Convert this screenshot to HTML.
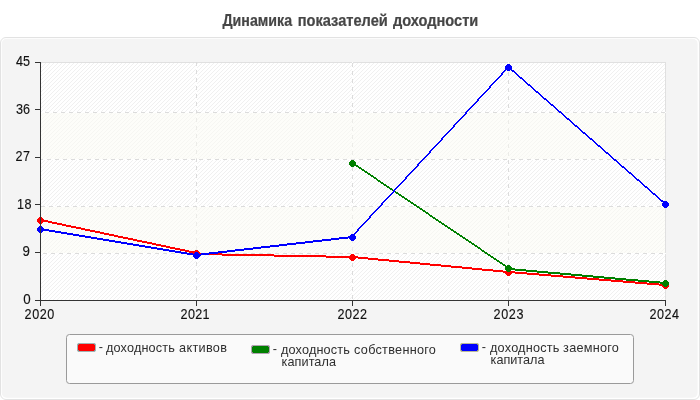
<!DOCTYPE html>
<html lang="ru">
<head>
<meta charset="utf-8">
<title>Динамика показателей доходности</title>
<style>
html,body{margin:0;padding:0;background:#fff;}
body{width:700px;height:400px;overflow:hidden;position:relative;font-family:"Liberation Sans",sans-serif;}
#chart{position:absolute;left:0;top:0;width:700px;height:400px;display:block;}
text{font-family:"Liberation Sans",sans-serif;white-space:pre;}
.title{font-weight:bold;font-size:14.67px;fill:#464646;stroke:#464646;stroke-width:0.2;}
.ax{font-size:12.6px;fill:#111111;stroke:#111111;stroke-width:0.12;}
.lg{font-size:12.7px;fill:#2e2e2e;stroke:#2e2e2e;stroke-width:0.0;}
</style>
</head>
<body>
<svg id="chart" width="700" height="400" viewBox="0 0 700 400">
<defs>
<pattern id="hatch" patternUnits="userSpaceOnUse" width="4" height="4" x="0" y="0">
<rect width="4" height="4" fill="#ffffff"/>
<g fill="#f0f0f0" shape-rendering="crispEdges"><rect x="0" y="0" width="1" height="1"/><rect x="3" y="1" width="1" height="1"/><rect x="2" y="2" width="1" height="1"/><rect x="1" y="3" width="1" height="1"/></g>
</pattern>
</defs>

<rect x="0.5" y="37.5" width="699" height="362" rx="5.5" ry="5.5" fill="#ffffff" stroke="#e2e2e2" stroke-width="1"/>
<rect x="1.7" y="38.7" width="695.9" height="359.1" rx="5" ry="5" fill="#f4f4f4"/>
<text class="title" transform="translate(0,26) scale(1,1.07)"><tspan x="222.46" y="0.0" textLength="69.58" lengthAdjust="spacingAndGlyphs">Динамика</tspan> <tspan x="297.7" y="0.0" textLength="90.1" lengthAdjust="spacingAndGlyphs">показателей</tspan> <tspan x="392.92" y="0.0" textLength="85.36" lengthAdjust="spacingAndGlyphs">доходности</tspan></text>
<rect x="40" y="62" width="626" height="239" fill="url(#hatch)"/>
<rect x="40.5" y="62.5" width="625" height="238" fill="none" stroke="#e0e0e0" stroke-width="1" shape-rendering="crispEdges"/>
<path d="M41 112h625v1h-625zM41 159h625v1h-625zM41 206h625v1h-625zM41 253h625v1h-625zM196 62h1v238h-1zM352 62h1v238h-1zM508 62h1v238h-1z" fill="#ffffff" shape-rendering="crispEdges"/>
<path d="M45 112h4v1h-4zM53 112h4v1h-4zM61 112h4v1h-4zM69 112h4v1h-4zM77 112h4v1h-4zM85 112h4v1h-4zM93 112h4v1h-4zM101 112h4v1h-4zM109 112h4v1h-4zM117 112h4v1h-4zM125 112h4v1h-4zM133 112h4v1h-4zM141 112h4v1h-4zM149 112h4v1h-4zM157 112h4v1h-4zM165 112h4v1h-4zM173 112h4v1h-4zM181 112h4v1h-4zM189 112h4v1h-4zM197 112h4v1h-4zM205 112h4v1h-4zM213 112h4v1h-4zM221 112h4v1h-4zM229 112h4v1h-4zM237 112h4v1h-4zM245 112h4v1h-4zM253 112h4v1h-4zM261 112h4v1h-4zM269 112h4v1h-4zM277 112h4v1h-4zM285 112h4v1h-4zM293 112h4v1h-4zM301 112h4v1h-4zM309 112h4v1h-4zM317 112h4v1h-4zM325 112h4v1h-4zM333 112h4v1h-4zM341 112h4v1h-4zM349 112h4v1h-4zM357 112h4v1h-4zM365 112h4v1h-4zM373 112h4v1h-4zM381 112h4v1h-4zM389 112h4v1h-4zM397 112h4v1h-4zM405 112h4v1h-4zM413 112h4v1h-4zM421 112h4v1h-4zM429 112h4v1h-4zM437 112h4v1h-4zM445 112h4v1h-4zM453 112h4v1h-4zM461 112h4v1h-4zM469 112h4v1h-4zM477 112h4v1h-4zM485 112h4v1h-4zM493 112h4v1h-4zM501 112h4v1h-4zM509 112h4v1h-4zM517 112h4v1h-4zM525 112h4v1h-4zM533 112h4v1h-4zM541 112h4v1h-4zM549 112h4v1h-4zM557 112h4v1h-4zM565 112h4v1h-4zM573 112h4v1h-4zM581 112h4v1h-4zM589 112h4v1h-4zM597 112h4v1h-4zM605 112h4v1h-4zM613 112h4v1h-4zM621 112h4v1h-4zM629 112h4v1h-4zM637 112h4v1h-4zM645 112h4v1h-4zM653 112h4v1h-4zM661 112h4v1h-4zM41 159h2v1h-2zM47 159h4v1h-4zM55 159h4v1h-4zM63 159h4v1h-4zM71 159h4v1h-4zM79 159h4v1h-4zM87 159h4v1h-4zM95 159h4v1h-4zM103 159h4v1h-4zM111 159h4v1h-4zM119 159h4v1h-4zM127 159h4v1h-4zM135 159h4v1h-4zM143 159h4v1h-4zM151 159h4v1h-4zM159 159h4v1h-4zM167 159h4v1h-4zM175 159h4v1h-4zM183 159h4v1h-4zM191 159h4v1h-4zM199 159h4v1h-4zM207 159h4v1h-4zM215 159h4v1h-4zM223 159h4v1h-4zM231 159h4v1h-4zM239 159h4v1h-4zM247 159h4v1h-4zM255 159h4v1h-4zM263 159h4v1h-4zM271 159h4v1h-4zM279 159h4v1h-4zM287 159h4v1h-4zM295 159h4v1h-4zM303 159h4v1h-4zM311 159h4v1h-4zM319 159h4v1h-4zM327 159h4v1h-4zM335 159h4v1h-4zM343 159h4v1h-4zM351 159h4v1h-4zM359 159h4v1h-4zM367 159h4v1h-4zM375 159h4v1h-4zM383 159h4v1h-4zM391 159h4v1h-4zM399 159h4v1h-4zM407 159h4v1h-4zM415 159h4v1h-4zM423 159h4v1h-4zM431 159h4v1h-4zM439 159h4v1h-4zM447 159h4v1h-4zM455 159h4v1h-4zM463 159h4v1h-4zM471 159h4v1h-4zM479 159h4v1h-4zM487 159h4v1h-4zM495 159h4v1h-4zM503 159h4v1h-4zM511 159h4v1h-4zM519 159h4v1h-4zM527 159h4v1h-4zM535 159h4v1h-4zM543 159h4v1h-4zM551 159h4v1h-4zM559 159h4v1h-4zM567 159h4v1h-4zM575 159h4v1h-4zM583 159h4v1h-4zM591 159h4v1h-4zM599 159h4v1h-4zM607 159h4v1h-4zM615 159h4v1h-4zM623 159h4v1h-4zM631 159h4v1h-4zM639 159h4v1h-4zM647 159h4v1h-4zM655 159h4v1h-4zM663 159h3v1h-3zM41 206h4v1h-4zM49 206h4v1h-4zM57 206h4v1h-4zM65 206h4v1h-4zM73 206h4v1h-4zM81 206h4v1h-4zM89 206h4v1h-4zM97 206h4v1h-4zM105 206h4v1h-4zM113 206h4v1h-4zM121 206h4v1h-4zM129 206h4v1h-4zM137 206h4v1h-4zM145 206h4v1h-4zM153 206h4v1h-4zM161 206h4v1h-4zM169 206h4v1h-4zM177 206h4v1h-4zM185 206h4v1h-4zM193 206h4v1h-4zM201 206h4v1h-4zM209 206h4v1h-4zM217 206h4v1h-4zM225 206h4v1h-4zM233 206h4v1h-4zM241 206h4v1h-4zM249 206h4v1h-4zM257 206h4v1h-4zM265 206h4v1h-4zM273 206h4v1h-4zM281 206h4v1h-4zM289 206h4v1h-4zM297 206h4v1h-4zM305 206h4v1h-4zM313 206h4v1h-4zM321 206h4v1h-4zM329 206h4v1h-4zM337 206h4v1h-4zM345 206h4v1h-4zM353 206h4v1h-4zM361 206h4v1h-4zM369 206h4v1h-4zM377 206h4v1h-4zM385 206h4v1h-4zM393 206h4v1h-4zM401 206h4v1h-4zM409 206h4v1h-4zM417 206h4v1h-4zM425 206h4v1h-4zM433 206h4v1h-4zM441 206h4v1h-4zM449 206h4v1h-4zM457 206h4v1h-4zM465 206h4v1h-4zM473 206h4v1h-4zM481 206h4v1h-4zM489 206h4v1h-4zM497 206h4v1h-4zM505 206h4v1h-4zM513 206h4v1h-4zM521 206h4v1h-4zM529 206h4v1h-4zM537 206h4v1h-4zM545 206h4v1h-4zM553 206h4v1h-4zM561 206h4v1h-4zM569 206h4v1h-4zM577 206h4v1h-4zM585 206h4v1h-4zM593 206h4v1h-4zM601 206h4v1h-4zM609 206h4v1h-4zM617 206h4v1h-4zM625 206h4v1h-4zM633 206h4v1h-4zM641 206h4v1h-4zM649 206h4v1h-4zM657 206h4v1h-4zM665 206h1v1h-1zM43 253h4v1h-4zM51 253h4v1h-4zM59 253h4v1h-4zM67 253h4v1h-4zM75 253h4v1h-4zM83 253h4v1h-4zM91 253h4v1h-4zM99 253h4v1h-4zM107 253h4v1h-4zM115 253h4v1h-4zM123 253h4v1h-4zM131 253h4v1h-4zM139 253h4v1h-4zM147 253h4v1h-4zM155 253h4v1h-4zM163 253h4v1h-4zM171 253h4v1h-4zM179 253h4v1h-4zM187 253h4v1h-4zM195 253h4v1h-4zM203 253h4v1h-4zM211 253h4v1h-4zM219 253h4v1h-4zM227 253h4v1h-4zM235 253h4v1h-4zM243 253h4v1h-4zM251 253h4v1h-4zM259 253h4v1h-4zM267 253h4v1h-4zM275 253h4v1h-4zM283 253h4v1h-4zM291 253h4v1h-4zM299 253h4v1h-4zM307 253h4v1h-4zM315 253h4v1h-4zM323 253h4v1h-4zM331 253h4v1h-4zM339 253h4v1h-4zM347 253h4v1h-4zM355 253h4v1h-4zM363 253h4v1h-4zM371 253h4v1h-4zM379 253h4v1h-4zM387 253h4v1h-4zM395 253h4v1h-4zM403 253h4v1h-4zM411 253h4v1h-4zM419 253h4v1h-4zM427 253h4v1h-4zM435 253h4v1h-4zM443 253h4v1h-4zM451 253h4v1h-4zM459 253h4v1h-4zM467 253h4v1h-4zM475 253h4v1h-4zM483 253h4v1h-4zM491 253h4v1h-4zM499 253h4v1h-4zM507 253h4v1h-4zM515 253h4v1h-4zM523 253h4v1h-4zM531 253h4v1h-4zM539 253h4v1h-4zM547 253h4v1h-4zM555 253h4v1h-4zM563 253h4v1h-4zM571 253h4v1h-4zM579 253h4v1h-4zM587 253h4v1h-4zM595 253h4v1h-4zM603 253h4v1h-4zM611 253h4v1h-4zM619 253h4v1h-4zM627 253h4v1h-4zM635 253h4v1h-4zM643 253h4v1h-4zM651 253h4v1h-4zM659 253h4v1h-4zM196 62h1v4h-1zM196 70h1v4h-1zM196 78h1v4h-1zM196 86h1v4h-1zM196 94h1v4h-1zM196 102h1v4h-1zM196 110h1v4h-1zM196 118h1v4h-1zM196 126h1v4h-1zM196 134h1v4h-1zM196 142h1v4h-1zM196 150h1v4h-1zM196 158h1v4h-1zM196 166h1v4h-1zM196 174h1v4h-1zM196 182h1v4h-1zM196 190h1v4h-1zM196 198h1v4h-1zM196 206h1v4h-1zM196 214h1v4h-1zM196 222h1v4h-1zM196 230h1v4h-1zM196 238h1v4h-1zM196 246h1v4h-1zM196 254h1v4h-1zM196 262h1v4h-1zM196 270h1v4h-1zM196 278h1v4h-1zM196 286h1v4h-1zM196 294h1v4h-1zM352 63h1v4h-1zM352 71h1v4h-1zM352 79h1v4h-1zM352 87h1v4h-1zM352 95h1v4h-1zM352 103h1v4h-1zM352 111h1v4h-1zM352 119h1v4h-1zM352 127h1v4h-1zM352 135h1v4h-1zM352 143h1v4h-1zM352 151h1v4h-1zM352 159h1v4h-1zM352 167h1v4h-1zM352 175h1v4h-1zM352 183h1v4h-1zM352 191h1v4h-1zM352 199h1v4h-1zM352 207h1v4h-1zM352 215h1v4h-1zM352 223h1v4h-1zM352 231h1v4h-1zM352 239h1v4h-1zM352 247h1v4h-1zM352 255h1v4h-1zM352 263h1v4h-1zM352 271h1v4h-1zM352 279h1v4h-1zM352 287h1v4h-1zM352 295h1v4h-1zM508 64h1v4h-1zM508 72h1v4h-1zM508 80h1v4h-1zM508 88h1v4h-1zM508 96h1v4h-1zM508 104h1v4h-1zM508 112h1v4h-1zM508 120h1v4h-1zM508 128h1v4h-1zM508 136h1v4h-1zM508 144h1v4h-1zM508 152h1v4h-1zM508 160h1v4h-1zM508 168h1v4h-1zM508 176h1v4h-1zM508 184h1v4h-1zM508 192h1v4h-1zM508 200h1v4h-1zM508 208h1v4h-1zM508 216h1v4h-1zM508 224h1v4h-1zM508 232h1v4h-1zM508 240h1v4h-1zM508 248h1v4h-1zM508 256h1v4h-1zM508 264h1v4h-1zM508 272h1v4h-1zM508 280h1v4h-1zM508 288h1v4h-1zM508 296h1v4h-1z" fill="#dcdcdc" shape-rendering="crispEdges"/>
<rect x="41" y="113" width="624" height="46" fill="#fcfcf4" fill-opacity="0.5" shape-rendering="crispEdges"/>
<rect x="41" y="207" width="624" height="46" fill="#fcfcf4" fill-opacity="0.5" shape-rendering="crispEdges"/>
<text class="ax" transform="translate(0,66.2) scale(1,1.13)"><tspan x="16.0" y="0.0" textLength="13.92" lengthAdjust="spacing">45</tspan></text>
<text class="ax" transform="translate(0,113.8) scale(1,1.13)"><tspan x="16.0" y="0.0" textLength="13.92" lengthAdjust="spacing">36</tspan></text>
<text class="ax" transform="translate(0,161.2) scale(1,1.13)"><tspan x="15.6" y="0.0" textLength="14.4" lengthAdjust="spacing">27</tspan></text>
<text class="ax" transform="translate(0,209) scale(1,1.13)"><tspan x="17.0" y="0.0" textLength="14.4" lengthAdjust="spacing">18</tspan></text>
<text class="ax" style="font-size:13.33px" transform="translate(0,256) scale(1,1.07)"><tspan x="22.6" y="0.0">9</tspan></text>
<text class="ax" style="font-size:13.33px" transform="translate(0,304) scale(1,1.07)"><tspan x="23.2" y="0.0">0</tspan></text>
<text class="ax" transform="translate(0,319) scale(1,1.13)"><tspan x="24.6" y="0.0" textLength="29.8" lengthAdjust="spacing">2020</tspan></text>
<text class="ax" transform="translate(0,319) scale(1,1.13)"><tspan x="180.6" y="0.0" textLength="29.0" lengthAdjust="spacing">2021</tspan></text>
<text class="ax" transform="translate(0,319) scale(1,1.13)"><tspan x="337.6" y="0.0" textLength="29.48" lengthAdjust="spacing">2022</tspan></text>
<text class="ax" transform="translate(0,319) scale(1,1.13)"><tspan x="493.6" y="0.0" textLength="29.8" lengthAdjust="spacing">2023</tspan></text>
<text class="ax" transform="translate(0,319) scale(1,1.13)"><tspan x="649.6" y="0.0" textLength="29.4" lengthAdjust="spacing">2024</tspan></text>
<path d="M40 219h3v1h-3zM40 220h8v1h-8zM43 221h9v1h-9zM48 222h9v1h-9zM52 223h10v1h-10zM57 224h9v1h-9zM62 225h9v1h-9zM66 226h10v1h-10zM71 227h10v1h-10zM76 228h9v1h-9zM81 229h9v1h-9zM85 230h10v1h-10zM90 231h10v1h-10zM95 232h9v1h-9zM100 233h9v1h-9zM104 234h10v1h-10zM109 235h9v1h-9zM114 236h9v1h-9zM118 237h10v1h-10zM123 238h10v1h-10zM128 239h9v1h-9zM133 240h9v1h-9zM137 241h10v1h-10zM142 242h10v1h-10zM147 243h9v1h-9zM152 244h9v1h-9zM156 245h10v1h-10zM161 246h9v1h-9zM166 247h9v1h-9zM170 248h10v1h-10zM175 249h10v1h-10zM180 250h9v1h-9zM185 251h9v1h-9zM189 252h8v1h-8zM194 253h28v1h-28zM196 254h78v1h-78zM222 255h104v1h-104zM274 256h84v1h-84zM326 257h42v1h-42zM358 258h20v1h-20zM368 259h21v1h-21zM378 260h21v1h-21zM389 261h21v1h-21zM399 262h21v1h-21zM410 263h20v1h-20zM420 264h21v1h-21zM430 265h21v1h-21zM441 266h21v1h-21zM451 267h21v1h-21zM462 268h20v1h-20zM472 269h21v1h-21zM482 270h21v1h-21zM493 271h22v1h-22zM503 272h24v1h-24zM515 273h24v1h-24zM527 274h24v1h-24zM539 275h24v1h-24zM551 276h24v1h-24zM563 277h24v1h-24zM575 278h24v1h-24zM587 279h24v1h-24zM599 280h24v1h-24zM611 281h24v1h-24zM623 282h24v1h-24zM635 283h24v1h-24zM647 284h19v1h-19zM659 285h7v1h-7z" fill="#ff0000" shape-rendering="crispEdges"/>
<path d="M37 219h7v3h-7zM38 218h5v1h-5zM38 222h5v1h-5zM39 217h3v1h-3zM39 223h3v1h-3zM193 252h7v3h-7zM194 251h5v1h-5zM194 255h5v1h-5zM195 250h3v1h-3zM195 256h3v1h-3zM349 256h7v3h-7zM350 255h5v1h-5zM350 259h5v1h-5zM351 254h3v1h-3zM351 260h3v1h-3zM505 271h7v3h-7zM506 270h5v1h-5zM506 274h5v1h-5zM507 269h3v1h-3zM507 275h3v1h-3zM662 284h7v3h-7zM663 283h5v1h-5zM663 287h5v1h-5zM664 282h3v1h-3zM664 288h3v1h-3z" fill="#ff0000" shape-rendering="crispEdges"/>
<path d="M352 162h1v1h-1zM352 163h3v1h-3zM353 164h3v1h-3zM355 165h3v1h-3zM356 166h3v1h-3zM358 167h3v1h-3zM359 168h3v1h-3zM361 169h3v1h-3zM362 170h3v1h-3zM364 171h3v1h-3zM365 172h3v1h-3zM367 173h3v1h-3zM368 174h3v1h-3zM370 175h3v1h-3zM371 176h3v1h-3zM373 177h3v1h-3zM374 178h3v1h-3zM376 179h2v1h-2zM377 180h3v1h-3zM378 181h3v1h-3zM380 182h3v1h-3zM381 183h3v1h-3zM383 184h3v1h-3zM384 185h3v1h-3zM386 186h3v1h-3zM387 187h3v1h-3zM389 188h3v1h-3zM390 189h3v1h-3zM392 190h3v1h-3zM393 191h3v1h-3zM395 192h3v1h-3zM396 193h3v1h-3zM398 194h3v1h-3zM399 195h3v1h-3zM401 196h3v1h-3zM402 197h3v1h-3zM404 198h3v1h-3zM405 199h3v1h-3zM407 200h3v1h-3zM408 201h3v1h-3zM410 202h3v1h-3zM411 203h3v1h-3zM413 204h3v1h-3zM414 205h3v1h-3zM416 206h3v1h-3zM417 207h3v1h-3zM419 208h3v1h-3zM420 209h3v1h-3zM422 210h3v1h-3zM423 211h3v1h-3zM425 212h3v1h-3zM426 213h3v1h-3zM428 214h2v1h-2zM429 215h3v1h-3zM430 216h3v1h-3zM432 217h3v1h-3zM433 218h3v1h-3zM435 219h3v1h-3zM436 220h3v1h-3zM438 221h3v1h-3zM439 222h3v1h-3zM441 223h3v1h-3zM442 224h3v1h-3zM444 225h3v1h-3zM445 226h3v1h-3zM447 227h3v1h-3zM448 228h3v1h-3zM450 229h3v1h-3zM451 230h3v1h-3zM453 231h3v1h-3zM454 232h3v1h-3zM456 233h3v1h-3zM457 234h3v1h-3zM459 235h3v1h-3zM460 236h3v1h-3zM462 237h3v1h-3zM463 238h3v1h-3zM465 239h3v1h-3zM466 240h3v1h-3zM468 241h3v1h-3zM469 242h3v1h-3zM471 243h3v1h-3zM472 244h3v1h-3zM474 245h3v1h-3zM475 246h3v1h-3zM477 247h3v1h-3zM478 248h3v1h-3zM480 249h2v1h-2zM481 250h3v1h-3zM482 251h3v1h-3zM484 252h3v1h-3zM485 253h3v1h-3zM487 254h3v1h-3zM488 255h3v1h-3zM490 256h3v1h-3zM491 257h3v1h-3zM493 258h3v1h-3zM494 259h3v1h-3zM496 260h3v1h-3zM497 261h3v1h-3zM499 262h3v1h-3zM500 263h3v1h-3zM502 264h3v1h-3zM503 265h3v1h-3zM505 266h3v1h-3zM506 267h3v1h-3zM508 268h7v1h-7zM509 269h17v1h-17zM515 270h22v1h-22zM526 271h22v1h-22zM537 272h23v1h-23zM548 273h23v1h-23zM560 274h22v1h-22zM571 275h22v1h-22zM582 276h22v1h-22zM593 277h22v1h-22zM604 278h22v1h-22zM615 279h23v1h-23zM626 280h23v1h-23zM638 281h22v1h-22zM649 282h17v1h-17zM660 283h6v1h-6z" fill="#008000" shape-rendering="crispEdges"/>
<path d="M349 162h7v3h-7zM350 161h5v1h-5zM350 165h5v1h-5zM351 160h3v1h-3zM351 166h3v1h-3zM505 267h7v3h-7zM506 266h5v1h-5zM506 270h5v1h-5zM507 265h3v1h-3zM507 271h3v1h-3zM662 282h7v3h-7zM663 281h5v1h-5zM663 285h5v1h-5zM664 280h3v1h-3zM664 286h3v1h-3z" fill="#008000" shape-rendering="crispEdges"/>
<path d="M40 228h3v1h-3zM40 229h9v1h-9zM43 230h12v1h-12zM49 231h12v1h-12zM55 232h12v1h-12zM61 233h12v1h-12zM67 234h12v1h-12zM73 235h12v1h-12zM79 236h12v1h-12zM85 237h12v1h-12zM91 238h12v1h-12zM97 239h12v1h-12zM103 240h12v1h-12zM109 241h12v1h-12zM115 242h12v1h-12zM121 243h12v1h-12zM127 244h12v1h-12zM133 245h12v1h-12zM139 246h12v1h-12zM145 247h12v1h-12zM151 248h12v1h-12zM157 249h12v1h-12zM163 250h12v1h-12zM169 251h12v1h-12zM175 252h12v1h-12zM181 253h12v1h-12zM187 254h22v1h-22zM193 255h8v1h-8zM201 253h17v1h-17zM209 252h18v1h-18zM218 251h17v1h-17zM227 250h17v1h-17zM235 249h18v1h-18zM244 248h17v1h-17zM253 247h17v1h-17zM261 246h18v1h-18zM270 245h17v1h-17zM279 244h17v1h-17zM287 243h18v1h-18zM296 242h17v1h-17zM305 241h17v1h-17zM313 240h18v1h-18zM322 239h17v1h-17zM331 238h17v1h-17zM339 237h14v1h-14zM348 236h5v1h-5zM352 235h2v1h-2zM353 234h2v1h-2zM354 233h2v1h-2zM355 232h2v1h-2zM356 231h2v1h-2zM357 229h2v2h-2zM358 228h2v1h-2zM359 227h2v1h-2zM360 226h2v1h-2zM361 225h2v1h-2zM362 224h2v1h-2zM363 223h2v1h-2zM364 222h2v1h-2zM365 221h2v1h-2zM366 220h2v1h-2zM367 219h2v1h-2zM368 218h2v1h-2zM369 216h2v2h-2zM370 215h2v1h-2zM371 214h2v1h-2zM372 213h2v1h-2zM373 212h2v1h-2zM374 211h2v1h-2zM375 210h2v1h-2zM376 209h2v1h-2zM377 208h2v1h-2zM378 207h2v1h-2zM379 206h2v1h-2zM380 205h2v1h-2zM381 203h2v2h-2zM382 202h2v1h-2zM383 201h2v1h-2zM384 200h2v1h-2zM385 199h2v1h-2zM386 198h2v1h-2zM387 197h2v1h-2zM388 196h2v1h-2zM389 195h2v1h-2zM390 194h2v1h-2zM391 193h2v1h-2zM392 192h2v1h-2zM393 190h2v2h-2zM394 189h2v1h-2zM395 188h2v1h-2zM396 187h2v1h-2zM397 186h2v1h-2zM398 185h2v1h-2zM399 184h2v1h-2zM400 183h2v1h-2zM401 182h2v1h-2zM402 181h2v1h-2zM403 180h2v1h-2zM404 179h2v1h-2zM405 177h2v2h-2zM406 176h2v1h-2zM407 175h2v1h-2zM408 174h2v1h-2zM409 173h2v1h-2zM410 172h2v1h-2zM411 171h2v1h-2zM412 170h2v1h-2zM413 169h2v1h-2zM414 168h2v1h-2zM415 167h2v1h-2zM416 166h2v1h-2zM417 164h2v2h-2zM418 163h2v1h-2zM419 162h2v1h-2zM420 161h2v1h-2zM421 160h2v1h-2zM422 159h2v1h-2zM423 158h2v1h-2zM424 157h2v1h-2zM425 156h2v1h-2zM426 155h2v1h-2zM427 154h2v1h-2zM428 153h2v1h-2zM429 151h2v2h-2zM430 150h2v1h-2zM431 149h2v1h-2zM432 148h2v1h-2zM433 147h2v1h-2zM434 146h2v1h-2zM435 145h2v1h-2zM436 144h2v1h-2zM437 143h2v1h-2zM438 142h2v1h-2zM439 141h2v1h-2zM440 140h2v1h-2zM441 138h2v2h-2zM442 137h2v1h-2zM443 136h2v1h-2zM444 135h2v1h-2zM445 134h2v1h-2zM446 133h2v1h-2zM447 132h2v1h-2zM448 131h2v1h-2zM449 130h2v1h-2zM450 129h2v1h-2zM451 128h2v1h-2zM452 127h2v1h-2zM453 125h2v2h-2zM454 124h2v1h-2zM455 123h2v1h-2zM456 122h2v1h-2zM457 121h2v1h-2zM458 120h2v1h-2zM459 119h2v1h-2zM460 118h2v1h-2zM461 117h2v1h-2zM462 116h2v1h-2zM463 115h2v1h-2zM464 114h2v1h-2zM465 112h2v2h-2zM466 111h2v1h-2zM467 110h2v1h-2zM468 109h2v1h-2zM469 108h2v1h-2zM470 107h2v1h-2zM471 106h2v1h-2zM472 105h2v1h-2zM473 104h2v1h-2zM474 103h2v1h-2zM475 102h2v1h-2zM476 101h2v1h-2zM477 99h2v2h-2zM478 98h2v1h-2zM479 97h2v1h-2zM480 96h2v1h-2zM481 95h2v1h-2zM482 94h2v1h-2zM483 93h2v1h-2zM484 92h2v1h-2zM485 91h2v1h-2zM486 90h2v1h-2zM487 89h2v1h-2zM488 88h2v1h-2zM489 86h2v2h-2zM490 85h2v1h-2zM491 84h2v1h-2zM492 83h2v1h-2zM493 82h2v1h-2zM494 81h2v1h-2zM495 80h2v1h-2zM496 79h2v1h-2zM497 78h2v1h-2zM498 77h2v1h-2zM499 76h2v1h-2zM500 75h2v1h-2zM501 73h2v2h-2zM502 72h2v1h-2zM503 71h2v1h-2zM504 70h2v1h-2zM505 69h2v1h-2zM506 68h2v1h-2zM507 67h3v1h-3zM509 68h2v1h-2zM510 69h2v1h-2zM511 70h3v1h-3zM512 71h3v1h-3zM514 72h2v1h-2zM515 73h2v1h-2zM516 74h2v1h-2zM517 75h2v1h-2zM518 76h2v1h-2zM519 77h3v1h-3zM520 78h3v1h-3zM522 79h2v1h-2zM523 80h2v1h-2zM524 81h2v1h-2zM525 82h2v1h-2zM526 83h2v1h-2zM527 84h3v1h-3zM528 85h3v1h-3zM530 86h2v1h-2zM531 87h2v1h-2zM532 88h2v1h-2zM533 89h2v1h-2zM534 90h2v1h-2zM535 91h3v1h-3zM536 92h3v1h-3zM538 93h2v1h-2zM539 94h2v1h-2zM540 95h2v1h-2zM541 96h2v1h-2zM542 97h2v1h-2zM543 98h3v1h-3zM544 99h3v1h-3zM546 100h2v1h-2zM547 101h2v1h-2zM548 102h2v1h-2zM549 103h2v1h-2zM550 104h3v1h-3zM551 105h3v1h-3zM553 106h2v1h-2zM554 107h2v1h-2zM555 108h2v1h-2zM556 109h2v1h-2zM557 110h2v1h-2zM558 111h3v1h-3zM559 112h3v1h-3zM561 113h2v1h-2zM562 114h2v1h-2zM563 115h2v1h-2zM564 116h2v1h-2zM565 117h2v1h-2zM566 118h3v1h-3zM567 119h3v1h-3zM569 120h2v1h-2zM570 121h2v1h-2zM571 122h2v1h-2zM572 123h2v1h-2zM573 124h2v1h-2zM574 125h3v1h-3zM575 126h3v1h-3zM577 127h2v1h-2zM578 128h2v1h-2zM579 129h2v1h-2zM580 130h2v1h-2zM581 131h2v1h-2zM582 132h3v1h-3zM583 133h3v1h-3zM585 134h2v1h-2zM586 135h2v1h-2zM587 136h2v1h-2zM588 137h2v1h-2zM589 138h3v1h-3zM590 139h3v1h-3zM592 140h2v1h-2zM593 141h2v1h-2zM594 142h2v1h-2zM595 143h2v1h-2zM596 144h2v1h-2zM597 145h3v1h-3zM598 146h3v1h-3zM600 147h2v1h-2zM601 148h2v1h-2zM602 149h2v1h-2zM603 150h2v1h-2zM604 151h2v1h-2zM605 152h3v1h-3zM606 153h3v1h-3zM608 154h2v1h-2zM609 155h2v1h-2zM610 156h2v1h-2zM611 157h2v1h-2zM612 158h2v1h-2zM613 159h3v1h-3zM614 160h3v1h-3zM616 161h2v1h-2zM617 162h2v1h-2zM618 163h2v1h-2zM619 164h2v1h-2zM620 165h2v1h-2zM621 166h3v1h-3zM622 167h3v1h-3zM624 168h2v1h-2zM625 169h2v1h-2zM626 170h2v1h-2zM627 171h2v1h-2zM628 172h3v1h-3zM629 173h3v1h-3zM631 174h2v1h-2zM632 175h2v1h-2zM633 176h2v1h-2zM634 177h2v1h-2zM635 178h2v1h-2zM636 179h3v1h-3zM637 180h3v1h-3zM639 181h2v1h-2zM640 182h2v1h-2zM641 183h2v1h-2zM642 184h2v1h-2zM643 185h2v1h-2zM644 186h3v1h-3zM645 187h3v1h-3zM647 188h2v1h-2zM648 189h2v1h-2zM649 190h2v1h-2zM650 191h2v1h-2zM651 192h2v1h-2zM652 193h3v1h-3zM653 194h3v1h-3zM655 195h2v1h-2zM656 196h2v1h-2zM657 197h2v1h-2zM658 198h2v1h-2zM659 199h2v1h-2zM660 200h3v1h-3zM661 201h3v1h-3zM663 202h2v1h-2zM664 203h2v1h-2zM665 204h1v1h-1z" fill="#0000ff" shape-rendering="crispEdges"/>
<path d="M37 228h7v3h-7zM38 227h5v1h-5zM38 231h5v1h-5zM39 226h3v1h-3zM39 232h3v1h-3zM193 254h7v3h-7zM194 253h5v1h-5zM194 257h5v1h-5zM195 252h3v1h-3zM195 258h3v1h-3zM349 236h7v3h-7zM350 235h5v1h-5zM350 239h5v1h-5zM351 234h3v1h-3zM351 240h3v1h-3zM505 66h7v3h-7zM506 65h5v1h-5zM506 69h5v1h-5zM507 64h3v1h-3zM507 70h3v1h-3zM662 203h7v3h-7zM663 202h5v1h-5zM663 206h5v1h-5zM664 201h3v1h-3zM664 207h3v1h-3z" fill="#0000ff" shape-rendering="crispEdges"/>
<g fill="#333333" shape-rendering="crispEdges">
<rect x="40" y="62" width="1" height="244"/>
<rect x="35" y="300" width="631" height="1"/>
<rect x="35" y="62" width="5" height="1"/>
<rect x="35" y="109" width="5" height="1"/>
<rect x="35" y="157" width="5" height="1"/>
<rect x="35" y="204" width="5" height="1"/>
<rect x="35" y="252" width="5" height="1"/>
<rect x="196" y="300" width="1" height="6"/>
<rect x="352" y="300" width="1" height="6"/>
<rect x="508" y="300" width="1" height="6"/>
<rect x="665" y="300" width="1" height="6"/>
</g>
<rect x="66.5" y="334.5" width="567" height="49" rx="3" ry="3" fill="#fafafa" stroke="#9a9a9a" stroke-width="1"/>
<g shape-rendering="crispEdges"><rect x="78" y="344" width="17" height="7" fill="#ff0000"/><path d="M78 343h17v1h-17zM78 351h17v1h-17zM77 344h1v7h-1zM95 344h1v7h-1z" fill="#a2b2b2"/><path d="M77 343h1v1h-1zM95 343h1v1h-1zM77 351h1v1h-1zM95 351h1v1h-1z" fill="#a2b2b2" fill-opacity="0.25"/><path d="M78 344h1v1h-1zM94 344h1v1h-1zM78 350h1v1h-1zM94 350h1v1h-1z" fill="#848e8e"/></g>
<g shape-rendering="crispEdges"><rect x="252" y="346" width="17" height="7" fill="#008000"/><path d="M252 345h17v1h-17zM252 353h17v1h-17zM251 346h1v7h-1zM269 346h1v7h-1z" fill="#b2a2b2"/><path d="M251 345h1v1h-1zM269 345h1v1h-1zM251 353h1v1h-1zM269 353h1v1h-1z" fill="#b2a2b2" fill-opacity="0.25"/><path d="M252 346h1v1h-1zM268 346h1v1h-1zM252 352h1v1h-1zM268 352h1v1h-1z" fill="#8e848e"/></g>
<g shape-rendering="crispEdges"><rect x="461" y="344" width="17" height="7" fill="#0000ff"/><path d="M461 343h17v1h-17zM461 351h17v1h-17zM460 344h1v7h-1zM478 344h1v7h-1z" fill="#baba9a"/><path d="M460 343h1v1h-1zM478 343h1v1h-1zM460 351h1v1h-1zM478 351h1v1h-1z" fill="#baba9a" fill-opacity="0.25"/><path d="M461 344h1v1h-1zM477 344h1v1h-1zM461 350h1v1h-1zM477 350h1v1h-1z" fill="#92927a"/></g>
<text class="lg" transform="translate(0,352) scale(1,1.06)"><tspan x="98.65" y="-0.94" textLength="3.9" lengthAdjust="spacing">-</tspan> <tspan x="106.0" y="0.0" textLength="68.9" lengthAdjust="spacing">доходность</tspan> <tspan x="179.1" y="0.0" textLength="47.8" lengthAdjust="spacing">активов</tspan></text>
<text class="lg" transform="translate(0,354) scale(1,1.06)"><tspan x="272.65" y="-0.94" textLength="3.9" lengthAdjust="spacing">-</tspan> <tspan x="281.0" y="0.0" textLength="68.9" lengthAdjust="spacing">доходность</tspan> <tspan x="354.1" y="0.0" textLength="81.8" lengthAdjust="spacing">собственного</tspan></text>
<text class="lg" transform="translate(0,365.5) scale(1,1.06)"><tspan x="281.6" y="0.0" textLength="54.4" lengthAdjust="spacing">капитала</tspan></text>
<text class="lg" transform="translate(0,352) scale(1,1.06)"><tspan x="481.65" y="-0.94" textLength="3.9" lengthAdjust="spacing">-</tspan> <tspan x="490.0" y="0.0" textLength="69.4" lengthAdjust="spacing">доходность</tspan> <tspan x="563.1" y="0.0" textLength="55.8" lengthAdjust="spacing">заемного</tspan></text>
<text class="lg" transform="translate(0,363.5) scale(1,1.06)"><tspan x="490.6" y="0.0" textLength="53.9" lengthAdjust="spacing">капитала</tspan></text>
</svg>
</body>
</html>
